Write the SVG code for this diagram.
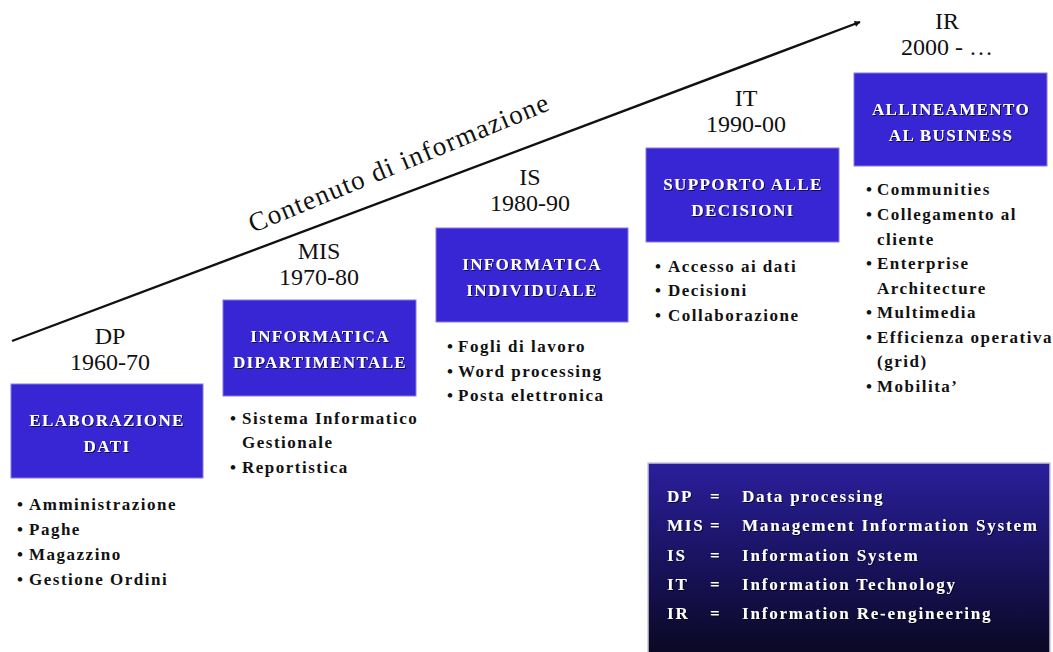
<svg xmlns="http://www.w3.org/2000/svg" width="1053" height="652" viewBox="0 0 1053 652">
  <style>
    .hdr { font-family: "Liberation Serif", serif; font-size: 24px; fill: #111; text-anchor: middle; }
    .box { fill: #3826d4; stroke: #8478e6; stroke-width: 1; }
    .btxt { font-family: "Liberation Serif", serif; font-weight: bold; font-size: 17px; letter-spacing: 1.4px; fill: #fff; text-anchor: middle; filter: url(#shadow); }
    .item { font-family: "Liberation Serif", serif; font-weight: bold; font-size: 17px; letter-spacing: 1.5px; fill: #111; }
    .leg { font-family: "Liberation Serif", serif; font-weight: bold; font-size: 17px; letter-spacing: 1.8px; fill: #fff; filter: url(#shadow); }
    .axis { font-family: "Liberation Serif", serif; font-size: 27px; letter-spacing: 1.3px; fill: #111; }
  </style>
  <defs>
    <marker id="arrow" viewBox="0 0 10 10" refX="9" refY="5" markerWidth="8" markerHeight="6" orient="auto" markerUnits="userSpaceOnUse">
      <path d="M0,0 L10,5 L0,10 z" fill="#111"/>
    </marker>
    <linearGradient id="legendFill" x1="0" y1="0" x2="0" y2="1">
      <stop offset="0" stop-color="#2a1f9c"/>
      <stop offset="0.55" stop-color="#18125a"/>
      <stop offset="1" stop-color="#0a0822"/>
    </linearGradient>
    <filter id="shadow" x="-5%" y="-20%" width="110%" height="140%">
      <feDropShadow dx="1" dy="1" stdDeviation="0.6" flood-color="#000" flood-opacity="0.7"/>
    </filter>
  </defs>

  <rect width="1053" height="652" fill="#fff"/>

  <!-- rising axis -->
  <g id="connectors">
    <line x1="12" y1="341" x2="860" y2="22" stroke="#111" stroke-width="2.4" marker-end="url(#arrow)"/>
    <text class="axis" transform="translate(253,233) rotate(-22.5)">Contenuto di informazione</text>
  </g>

  <!-- DP -->
  <g id="dp">
    <text class="hdr" x="110" y="344">DP</text>
    <text class="hdr" x="110" y="370">1960-70</text>
    <rect class="box" x="11" y="384" width="192" height="94"/>
    <text class="btxt" x="107" y="426">ELABORAZIONE</text>
    <text class="btxt" x="107" y="452">DATI</text>
    <text class="item"><tspan x="17" y="510">•</tspan><tspan x="29">Amministrazione</tspan></text>
    <text class="item"><tspan x="17" y="535">•</tspan><tspan x="29">Paghe</tspan></text>
    <text class="item"><tspan x="17" y="560">•</tspan><tspan x="29">Magazzino</tspan></text>
    <text class="item"><tspan x="17" y="585">•</tspan><tspan x="29">Gestione Ordini</tspan></text>
  </g>

  <!-- MIS -->
  <g id="mis">
    <text class="hdr" x="319" y="259">MIS</text>
    <text class="hdr" x="319" y="285">1970-80</text>
    <rect class="box" x="223" y="300" width="193" height="96"/>
    <text class="btxt" x="320" y="342">INFORMATICA</text>
    <text class="btxt" x="320" y="368">DIPARTIMENTALE</text>
    <text class="item"><tspan x="230" y="424">•</tspan><tspan x="242">Sistema Informatico</tspan></text>
    <text class="item" x="242" y="448">Gestionale</text>
    <text class="item"><tspan x="230" y="473">•</tspan><tspan x="242">Reportistica</tspan></text>
  </g>

  <!-- IS -->
  <g id="is">
    <text class="hdr" x="530" y="185">IS</text>
    <text class="hdr" x="530" y="211">1980-90</text>
    <rect class="box" x="436" y="228" width="192" height="94"/>
    <text class="btxt" x="532" y="270">INFORMATICA</text>
    <text class="btxt" x="532" y="296">INDIVIDUALE</text>
    <text class="item"><tspan x="447" y="352">•</tspan><tspan x="458">Fogli di lavoro</tspan></text>
    <text class="item"><tspan x="447" y="377">•</tspan><tspan x="458">Word processing</tspan></text>
    <text class="item"><tspan x="447" y="401">•</tspan><tspan x="458">Posta elettronica</tspan></text>
  </g>

  <!-- IT -->
  <g id="it">
    <text class="hdr" x="746" y="106">IT</text>
    <text class="hdr" x="746" y="132">1990-00</text>
    <rect class="box" x="646" y="148" width="193" height="94"/>
    <text class="btxt" x="743" y="190">SUPPORTO ALLE</text>
    <text class="btxt" x="743" y="216">DECISIONI</text>
    <text class="item"><tspan x="655" y="272">•</tspan><tspan x="668">Accesso ai dati</tspan></text>
    <text class="item"><tspan x="655" y="296">•</tspan><tspan x="668">Decisioni</tspan></text>
    <text class="item"><tspan x="655" y="321">•</tspan><tspan x="668">Collaborazione</tspan></text>
  </g>

  <!-- IR -->
  <g id="ir">
    <text class="hdr" x="947" y="29">IR</text>
    <text class="hdr" x="947" y="55">2000 - …</text>
    <rect class="box" x="854" y="73" width="193" height="93"/>
    <text class="btxt" x="951" y="115">ALLINEAMENTO</text>
    <text class="btxt" x="951" y="141">AL BUSINESS</text>
    <text class="item"><tspan x="866" y="195">•</tspan><tspan x="877">Communities</tspan></text>
    <text class="item"><tspan x="866" y="220">•</tspan><tspan x="877">Collegamento al</tspan></text>
    <text class="item" x="877" y="245">cliente</text>
    <text class="item"><tspan x="866" y="269">•</tspan><tspan x="877">Enterprise</tspan></text>
    <text class="item" x="877" y="294">Architecture</text>
    <text class="item"><tspan x="866" y="318">•</tspan><tspan x="877">Multimedia</tspan></text>
    <text class="item"><tspan x="866" y="343">•</tspan><tspan x="877">Efficienza operativa</tspan></text>
    <text class="item" x="877" y="367">(grid)</text>
    <text class="item"><tspan x="866" y="392">•</tspan><tspan x="877">Mobilita’</tspan></text>
  </g>

  <!-- abbreviation legend -->
  <g id="legend">
    <rect x="648" y="463" width="402" height="192" fill="url(#legendFill)" stroke="#c9c9d8" stroke-width="1.5"/>
    <text class="leg" x="667" y="502">DP</text>
    <text class="leg" x="710" y="502">=</text>
    <text class="leg" x="742" y="502">Data processing</text>
    <text class="leg" x="667" y="531">MIS</text>
    <text class="leg" x="710" y="531">=</text>
    <text class="leg" x="742" y="531">Management Information System</text>
    <text class="leg" x="667" y="561">IS</text>
    <text class="leg" x="710" y="561">=</text>
    <text class="leg" x="742" y="561">Information System</text>
    <text class="leg" x="667" y="590">IT</text>
    <text class="leg" x="710" y="590">=</text>
    <text class="leg" x="742" y="590">Information Technology</text>
    <text class="leg" x="667" y="619">IR</text>
    <text class="leg" x="710" y="619">=</text>
    <text class="leg" x="742" y="619">Information Re-engineering</text>
  </g>
</svg>
